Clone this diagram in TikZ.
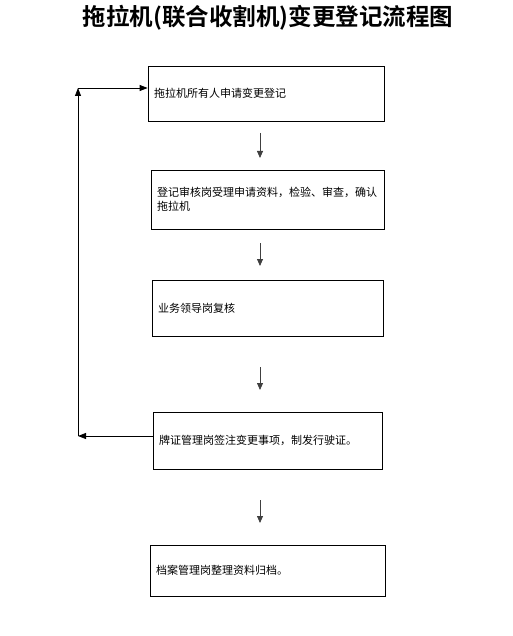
\documentclass[tikz,border=0pt]{standalone}
\usepackage{fontspec}
\newfontfamily\cjk{Noto Sans CJK SC}
\newfontfamily\cjkbold{Noto Sans CJK SC Bold}
\usetikzlibrary{arrows.meta, positioning, calc}

\begin{document}
\begin{tikzpicture}[
  x=1pt, y=-1pt,
  stage/.style={draw, line width=0.8pt, align=left, inner xsep=6pt,
                font=\cjk\fontsize{11}{14}\selectfont},
  down/.style={-{Triangle[length=7pt, width=6pt]}, line width=0.8pt, black!75},
  loop/.style={-{Triangle[length=8pt, width=6pt]}, line width=0.8pt},
  ptitle/.style={font=\cjkbold\fontsize{23.5}{26}\selectfont},
]
\useasboundingbox (0,0) rectangle (513,636);

% --- title ---
\node[ptitle] (title) at (268, 18) {拖拉机(联合收割机)变更登记流程图};

% --- stages ---
\node[stage, text width=224pt, minimum height=55pt] (b1) at (266, 93.5)
  {拖拉机所有人申请变更登记};
\node[stage, text width=221pt, minimum height=59pt] (b2) at (267.5, 199.5)
  {登记审核岗受理申请资料，检验、审查，确认\\拖拉机};
\node[stage, text width=219pt, minimum height=56pt] (b3) at (267.5, 308)
  {业务领导岗复核};
\node[stage, text width=217pt, minimum height=57pt] (b4) at (267.5, 440.5)
  {牌证管理岗签注变更事项，制发行驶证。};
\node[stage, text width=223pt, minimum height=51pt] (b5) at (267.5, 570.5)
  {档案管理岗整理资料归档。};

% --- down arrows between stages ---
\coordinate (a1s) at (260, 133);  \coordinate (a1e) at (260, 158);
\coordinate (a2s) at (260, 243);  \coordinate (a2e) at (260, 266);
\coordinate (a3s) at (260, 367);  \coordinate (a3e) at (260, 390);
\coordinate (a4s) at (260, 500);  \coordinate (a4e) at (260, 523);
\draw[down] (a1s) -- (a1e);
\draw[down] (a2s) -- (a2e);
\draw[down] (a3s) -- (a3e);
\draw[down] (a4s) -- (a4e);

% --- feedback loop ---
\coordinate (loopB) at (78, 436);
\coordinate (loopT) at (78, 88);
\draw[loop] (b4.west |- loopB) -- (loopB);
\draw[loop] (loopB) -- (loopT);
\draw[loop] (loopT) -- (loopT -| b1.west);

\end{tikzpicture}
\end{document}
